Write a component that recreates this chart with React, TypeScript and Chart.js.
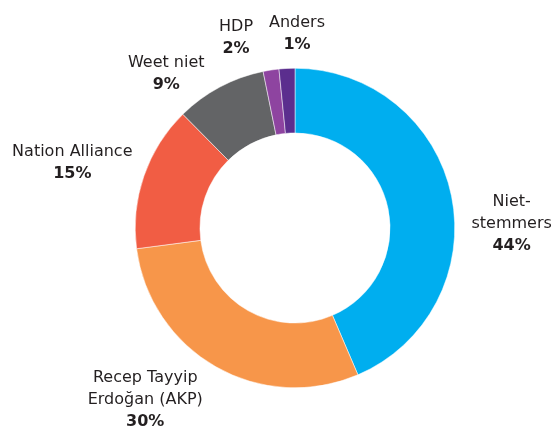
import React, { useEffect, useRef } from "react";
import { Chart, registerables } from "chart.js";

Chart.register(...registerables);

// ---- data ----
const categories: string[][] = [
  ["Niet-", "stemmers"],
  ["Recep Tayyip", "Erdoğan (AKP)"],
  ["Nation Alliance"],
  ["Weet niet"],
  ["HDP"],
  ["Anders"],
];
const values: number[] = [43.6, 29.4, 14.7, 9.2, 1.6, 1.6];
const percentLabels: string[] = ["44%", "30%", "15%", "9%", "2%", "1%"];
const colors: string[] = ["#00AEEF", "#F7964A", "#F15D44", "#636466", "#8E44A0", "#5B2E8E"];

// label block centres relative to the doughnut centre, in units of the outer radius
const labelOffsets: [number, number][] = [
  [1.356, -0.025],
  [-0.9375, 1.075],
  [-1.394, -0.409],
  [-0.806, -0.966],
  [-0.369, -1.19],
  [0.0125, -1.216],
];

const LINE_H = 22;
const FONT_SIZE = 16;
const FONT_FAMILY = '"DejaVu Sans", Verdana, sans-serif';

const labelPlugin = {
  id: "outerLabels",
  afterDraw(chart: any) {
    const ctx = chart.ctx;
    const meta = chart.getDatasetMeta(0);
    ctx.save();
    ctx.textAlign = "center";
    ctx.textBaseline = "middle";
    ctx.fillStyle = "#231F20";
    meta.data.forEach((arc: any, i: number) => {
      const { x, y, outerRadius } = arc.getProps(["x", "y", "outerRadius"], true);
      const [ox, oy] = labelOffsets[i];
      const cx = x + ox * outerRadius;
      const cy = y + oy * outerRadius;
      const lines = categories[i];
      const total = lines.length + 1;
      const top = cy - ((total - 1) * LINE_H) / 2;
      lines.forEach((ln, j) => {
        ctx.font = `normal ${FONT_SIZE}px ${FONT_FAMILY}`;
        ctx.fillText(ln, cx, top + j * LINE_H);
      });
      ctx.font = `bold ${FONT_SIZE}px ${FONT_FAMILY}`;
      ctx.fillText(percentLabels[i], cx, top + lines.length * LINE_H);
    });
    ctx.restore();
  },
};

export default function App() {
  const ref = useRef<HTMLCanvasElement | null>(null);
  useEffect(() => {
    document.body.style.margin = "0";
    const canvas = ref.current!;
    const chart = new Chart(canvas, {
      type: "doughnut",
      data: {
        labels: categories.map((c) => c.join(" ")),
        datasets: [
          {
            data: values,
            backgroundColor: colors,
            borderColor: "#ffffff",
            borderWidth: 0.5,
          },
        ],
      },
      options: {
        responsive: false,
        animation: false,
        cutout: "59.5%",
        layout: { padding: { left: 135, right: 98, top: 68, bottom: 40 } },
        plugins: {
          legend: { display: false },
          tooltip: { enabled: false },
        },
      },
      plugins: [labelPlugin],
    });
    return () => chart.destroy();
  }, []);
  return (
    <div style={{ position: "relative", width: 553, height: 428, background: "#fff" }}>
      <canvas ref={ref} width={553} height={428} />
    </div>
  );
}
